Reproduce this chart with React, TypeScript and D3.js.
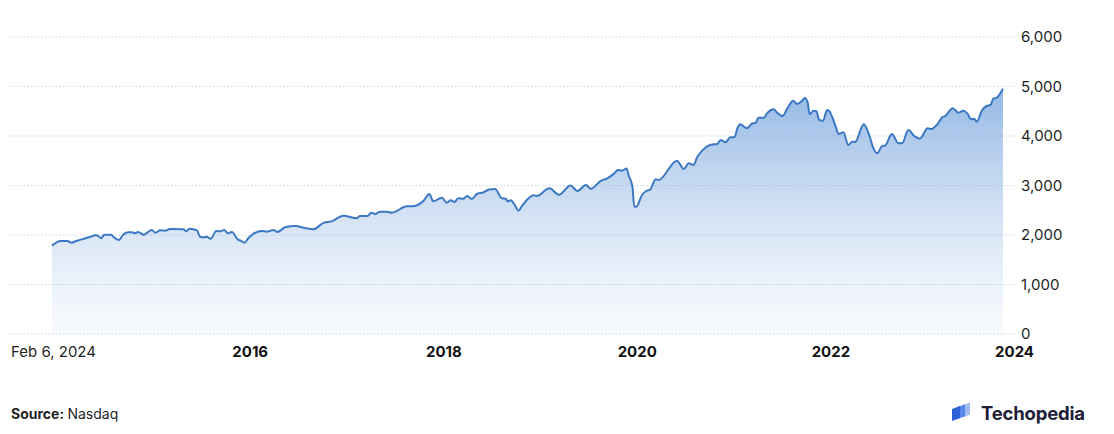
import React, { useEffect, useRef } from 'react';
import * as d3 from 'd3';

// decimal years
const years: number[] = [
  2013.95, 2014.04, 2014.11, 2014.15, 2014.21, 2014.28, 2014.35, 2014.40, 2014.42, 2014.46,
  2014.49, 2014.56, 2014.59, 2014.64, 2014.69, 2014.74, 2014.78, 2014.81, 2014.84, 2014.90,
  2014.98, 2015.02, 2015.07, 2015.12, 2015.17, 2015.31, 2015.34, 2015.37, 2015.45, 2015.48,
  2015.52, 2015.55, 2015.59, 2015.65, 2015.69, 2015.73, 2015.77, 2015.81, 2015.87, 2015.90,
  2015.94, 2015.98, 2016.03, 2016.12, 2016.17, 2016.24, 2016.28, 2016.36, 2016.47, 2016.55,
  2016.65, 2016.76, 2016.84, 2016.96, 2017.10, 2017.13, 2017.21, 2017.25, 2017.29, 2017.34,
  2017.41, 2017.46, 2017.62, 2017.67, 2017.79, 2017.85, 2017.89, 2017.98, 2018.03, 2018.07,
  2018.11, 2018.15, 2018.20, 2018.24, 2018.29, 2018.34, 2018.41, 2018.46, 2018.53, 2018.60,
  2018.64, 2018.66, 2018.69, 2018.73, 2018.77, 2018.82, 2018.93, 2018.96, 2019.09, 2019.19,
  2019.31, 2019.38, 2019.47, 2019.52, 2019.62, 2019.69, 2019.76, 2019.80, 2019.84, 2019.89,
  2019.91, 2019.95, 2019.97, 2019.99, 2020.05, 2020.10, 2020.13, 2020.19, 2020.22, 2020.41,
  2020.48, 2020.53, 2020.58, 2020.62, 2020.79, 2020.82, 2020.86, 2020.91, 2020.96, 2021.00,
  2021.04, 2021.06, 2021.13, 2021.19, 2021.22, 2021.25, 2021.31, 2021.34, 2021.41, 2021.44,
  2021.50, 2021.55, 2021.61, 2021.65, 2021.70, 2021.73, 2021.76, 2021.78, 2021.82, 2021.85,
  2021.88, 2021.92, 2021.96, 2021.98, 2022.05, 2022.08, 2022.13, 2022.18, 2022.22, 2022.25,
  2022.34, 2022.39, 2022.44, 2022.48, 2022.53, 2022.56, 2022.63, 2022.70, 2022.74, 2022.80,
  2022.87, 2022.92, 2023.00, 2023.04, 2023.10, 2023.15, 2023.18, 2023.26, 2023.32, 2023.37,
  2023.41, 2023.45, 2023.48, 2023.51, 2023.56, 2023.61, 2023.65, 2023.68, 2023.71, 2023.78,
];

const values: number[] = [
  1785, 1880, 1880, 1845, 1885, 1925, 1965, 1995, 1990, 1935,
  2006, 2006, 1953, 1900, 2014, 2054, 2054, 2034, 2060, 2006,
  2101, 2047, 2094, 2088, 2121, 2115, 2074, 2128, 2094, 1965,
  1953, 1965, 1925, 2081, 2074, 2101, 2034, 2060, 1912, 1885,
  1845, 1933, 2020, 2081, 2067, 2101, 2060, 2155, 2182, 2148,
  2115, 2249, 2276, 2390, 2337, 2384, 2384, 2451, 2424, 2471,
  2471, 2451, 2579, 2579, 2693, 2828, 2680, 2754, 2653, 2700,
  2667, 2741, 2734, 2788, 2727, 2828, 2862, 2915, 2929, 2741,
  2734, 2680, 2700, 2620, 2491, 2620, 2801, 2788, 2943, 2815,
  3000, 2889, 3010, 2935, 3090, 3145, 3240, 3313, 3300, 3345,
  3212, 2976, 2572, 2572, 2808, 2895, 2910, 3125, 3111, 3502,
  3333, 3448, 3414, 3582, 3832, 3832, 3919, 3872, 3973, 3973,
  4189, 4236, 4155, 4256, 4260, 4370, 4370, 4458, 4538, 4478,
  4404, 4559, 4714, 4646, 4707, 4770, 4680, 4438, 4511, 4500,
  4323, 4310, 4525, 4511, 4189, 4040, 4074, 3818, 3886, 3880,
  4236, 4054, 3751, 3650, 3798, 3805, 4040, 3852, 3860, 4121,
  3986, 3946, 4155, 4140, 4236, 4377, 4400, 4559, 4471, 4511,
  4458, 4337, 4350, 4290, 4511, 4606, 4626, 4754, 4768, 4956,
];

const yTicks: number[] = [0, 1000, 2000, 3000, 4000, 5000, 6000];
const xTickYears: number[] = [2016, 2018, 2020, 2022];
const firstLabel = 'Feb 6, 2024';
const lastLabel = '2024';

const toDate = (y: number) => {
  const yr = Math.floor(y);
  const start = Date.UTC(yr, 0, 1);
  const end = Date.UTC(yr + 1, 0, 1);
  return new Date(start + (y - yr) * (end - start));
};

const W = 1114;
const H = 434;

const Chart: React.FC = () => {
  const svgRef = useRef<SVGSVGElement>(null);

  useEffect(() => {
    document.body.style.margin = '0';
    if (!svgRef.current) return;
    const svg = d3.select(svgRef.current);
    svg.selectAll('*').remove();

    const data = years.map((y, i) => ({ date: toDate(y), value: values[i] }));
    const font = 'Inter, "Noto Sans", sans-serif';

    const x = d3.scaleTime()
      .domain(d3.extent(data, d => d.date) as [Date, Date])
      .range([52, 1003]);
    const y = d3.scaleLinear().domain([0, 6000]).range([334, 37]);

    const defs = svg.append('defs');
    const grad = defs.append('linearGradient')
      .attr('id', 'areaGrad')
      .attr('gradientUnits', 'userSpaceOnUse')
      .attr('x1', 0).attr('x2', 0)
      .attr('y1', y(5000)).attr('y2', y(0));
    grad.append('stop').attr('offset', '0%').attr('stop-color', '#4f8ad4').attr('stop-opacity', 0.62);
    grad.append('stop').attr('offset', '100%').attr('stop-color', '#a9c6ea').attr('stop-opacity', 0.08);

    // grid lines
    svg.append('g')
      .selectAll('line')
      .data(yTicks)
      .join('line')
      .attr('x1', 10)
      .attr('x2', 1015)
      .attr('y1', d => y(d))
      .attr('y2', d => y(d))
      .style('stroke', '#c9d5e8')
      .style('stroke-width', 1)
      .style('stroke-dasharray', '1.5,2');

    // y labels
    svg.append('g')
      .selectAll('text')
      .data(yTicks)
      .join('text')
      .attr('x', 1021)
      .attr('y', d => y(d))
      .attr('dy', '0.35em')
      .style('font-family', font)
      .style('font-size', '15px')
      .style('fill', '#1f1f1f')
      .text(d => d3.format(',')(d));

    const area = d3.area<{ date: Date; value: number }>()
      .x(d => x(d.date))
      .y0(y(0))
      .y1(d => y(d.value))
      .curve(d3.curveMonotoneX);

    const line = d3.line<{ date: Date; value: number }>()
      .x(d => x(d.date))
      .y(d => y(d.value))
      .curve(d3.curveMonotoneX);

    svg.append('path')
      .datum(data)
      .attr('d', area)
      .style('fill', 'url(#areaGrad)');

    svg.append('path')
      .datum(data)
      .attr('d', line)
      .style('fill', 'none')
      .style('stroke', '#3b78c3')
      .style('stroke-width', 2)
      .style('stroke-linejoin', 'round');

    // x labels
    svg.append('text')
      .attr('x', 11)
      .attr('y', 352)
      .attr('dy', '0.35em')
      .style('font-family', font)
      .style('font-size', '15px')
      .style('fill', '#1f1f1f')
      .text(firstLabel);

    svg.append('g')
      .selectAll('text')
      .data(xTickYears)
      .join('text')
      .attr('x', d => x(toDate(d)))
      .attr('y', 352)
      .attr('dy', '0.35em')
      .attr('text-anchor', 'middle')
      .style('font-family', font)
      .style('font-size', '15px')
      .style('font-weight', 700)
      .style('fill', '#111')
      .text(d => String(d));

    svg.append('text')
      .attr('x', 1034)
      .attr('y', 352)
      .attr('dy', '0.35em')
      .attr('text-anchor', 'end')
      .style('font-family', font)
      .style('font-size', '15px')
      .style('font-weight', 700)
      .style('fill', '#111')
      .text(lastLabel);

    // footer
    const src = svg.append('text')
      .attr('x', 11)
      .attr('y', 414)
      .attr('dy', '0.35em')
      .style('font-family', font)
      .style('font-size', '14px')
      .style('fill', '#1f1f1f');
    src.append('tspan').style('font-weight', 700).text('Source: ');
    src.append('tspan').text('Nasdaq');

    // logo
    const logo = svg.append('g').attr('transform', 'translate(952,402)');
    const shapes = [
      { dx: 10, color: '#9fb9f3' },
      { dx: 5, color: '#5a86ea' },
      { dx: 0, color: '#2f5fd6' },
    ];
    shapes.forEach(s => {
      logo.append('path')
        .attr('d', `M${s.dx},${4 - s.dx * 0.35} L${s.dx + 8},${1 - s.dx * 0.35} L${s.dx + 8},${13 - s.dx * 0.35} L${s.dx},${16 - s.dx * 0.35} Z`)
        .attr('transform', 'translate(0,3)')
        .style('fill', s.color);
    });

    svg.append('text')
      .attr('x', 981)
      .attr('y', 414)
      .attr('dy', '0.35em')
      .style('font-family', font)
      .style('font-size', '18.5px')
      .style('font-weight', 700)
      .style('fill', '#1d2036')
      .style('letter-spacing', '-0.2px')
      .text('Techopedia');
  }, []);

  return <svg ref={svgRef} width={W} height={H} style={{ display: 'block', background: '#fff' }} />;
};

const App: React.FC = () => <Chart />;

export default App;
